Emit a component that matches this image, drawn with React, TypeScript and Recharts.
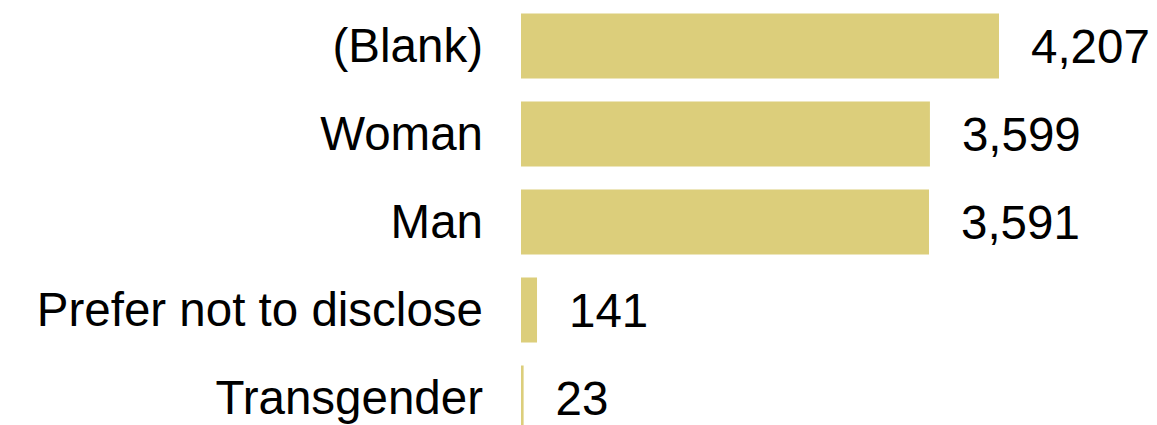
import { Bar, BarChart, LabelList, XAxis, YAxis } from 'recharts'

const categories = ['(Blank)', 'Woman', 'Man', 'Prefer not to disclose', 'Transgender']
const counts = [4207, 3599, 3591, 141, 23]

const data = categories.map((name, i) => ({ name, count: counts[i] }))

const font = '"Liberation Sans", Arial, sans-serif'

export default function App() {
  return (
    <div
      style={{
        position: 'absolute',
        top: 0,
        left: 0,
        width: 1157,
        height: 425,
        overflow: 'hidden',
        background: '#fff',
      }}
    >
      <BarChart
        width={1157}
        height={442}
        data={data}
        layout="vertical"
        margin={{ top: 1.5, right: 158, left: 0, bottom: 0.5 }}
      >
        <XAxis type="number" hide domain={[0, 'dataMax']} />
        <YAxis
          type="category"
          dataKey="name"
          width={521}
          axisLine={false}
          tickLine={false}
          tickSize={0}
          tickMargin={38}
          tick={{ fontSize: 47.5, fill: '#000', fontFamily: font }}
        />
        <Bar dataKey="count" fill="#DCCE7B" barSize={65} isAnimationActive={false}>
          <LabelList
            dataKey="count"
            position="right"
            offset={32}
            formatter={(v: any) => Number(v).toLocaleString('en-US')}
            style={{ fontSize: 47.5, fill: '#000', fontFamily: font }}
          />
        </Bar>
      </BarChart>
    </div>
  )
}
